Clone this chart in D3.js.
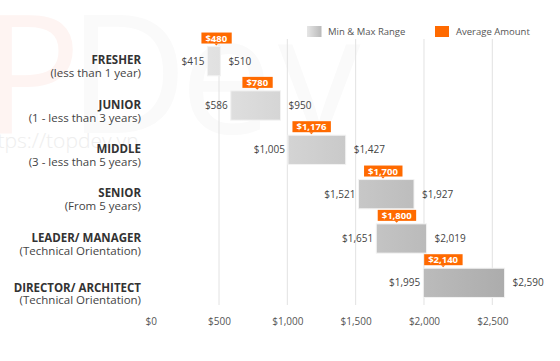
<!DOCTYPE html>
<html><head><meta charset="utf-8">
<script src="https://cdn.jsdelivr.net/npm/d3@7"></script>
<style>body{margin:0;background:#fff}svg{display:block;font-family:"Open Sans",sans-serif}</style>
</head><body><svg id="c" width="560" height="361"></svg>
<script>
const titles = ["FRESHER","JUNIOR","MIDDLE","SENIOR","LEADER/ MANAGER","DIRECTOR/ ARCHITECT"];
const subtitles = ["(less than 1 year)","(1 - less than 3 years)","(3 - less than 5 years)","(From 5 years)","(Technical Orientation)","(Technical Orientation)"];
const minVals = [415,586,1005,1521,1651,1995];
const maxVals = [510,950,1427,1927,2019,2590];
const avgVals = [480,780,1176,1700,1800,2140];
const ticks = [0,500,1000,1500,2000,2500];
const legendLabels = ["Min & Max Range","Average Amount"];

const svg = d3.select("#c");
const fmt = v => "$" + d3.format(",")(v);
const x = d3.scaleLinear().domain([0,2500]).range([150.7,492.3]);
const y = d3.scaleBand().domain(titles).range([39,305]).paddingInner(0.34).paddingOuter(0.17);

// watermark
const wm = svg.append("g").attr("font-family","Open Sans, sans-serif").attr("font-size",165).attr("font-weight",400);
wm.append("text").attr("x",-18).attr("y",133).attr("fill","#fef4f2").text("P");
wm.append("text").attr("x",68).attr("y",133).attr("fill","#fafafa").text("D");
wm.append("text").attr("x",180).attr("y",133).attr("fill","#fafafa").text("e");
wm.append("text").attr("x",278).attr("y",133).attr("fill","#fafafa").text("v");
svg.append("text").attr("x",-22).attr("y",148).attr("font-size",21).attr("font-weight",300).attr("fill","#eeeeee").text("https://topdev.vn");

const defs = svg.append("defs");
const g1 = defs.append("linearGradient").attr("id","bg").attr("gradientUnits","userSpaceOnUse")
  .attr("x1",x(0)).attr("x2",x(2600)).attr("y1",0).attr("y2",0);
g1.append("stop").attr("offset",0).attr("stop-color","#ededed");
g1.append("stop").attr("offset",1).attr("stop-color","#acacac");
const g2 = defs.append("linearGradient").attr("id","lg");
g2.append("stop").attr("offset",0).attr("stop-color","#e6e6e6");
g2.append("stop").attr("offset",1).attr("stop-color","#b9b9b9");

// grid
svg.append("g").selectAll("line").data(ticks.filter(t=>t>0)).join("line")
  .attr("x1",d=>x(d)).attr("x2",d=>x(d)).attr("y1",39).attr("y2",305)
  .attr("stroke","#e2e2e2").attr("stroke-width",1);

// axis
const ax = svg.append("g").attr("transform","translate(0,305)")
  .call(d3.axisBottom(x).tickValues(ticks).tickFormat(fmt).tickSize(0).tickPadding(13));
ax.select(".domain").remove();
ax.selectAll("text").attr("font-size",10).attr("fill","#555").attr("font-family","Open Sans, sans-serif");

const bw = y.bandwidth();
// bars
svg.append("g").selectAll("rect").data(titles).join("rect")
  .attr("x",(d,i)=>x(minVals[i])).attr("width",(d,i)=>x(maxVals[i])-x(minVals[i]))
  .attr("y",d=>y(d)).attr("height",bw)
  .attr("fill","url(#bg)").attr("stroke","#f2f2f2").attr("stroke-width",1);

// min / max labels
svg.append("g").selectAll("text").data(titles).join("text")
  .attr("x",(d,i)=>x(minVals[i])-3).attr("y",d=>y(d)+bw/2+3.5)
  .attr("text-anchor","end").attr("font-size",10).attr("fill","#444").text((d,i)=>fmt(minVals[i]));
svg.append("g").selectAll("text").data(titles).join("text")
  .attr("x",(d,i)=>x(maxVals[i])+8).attr("y",d=>y(d)+bw/2+3.5)
  .attr("text-anchor","start").attr("font-size",10).attr("fill","#444").text((d,i)=>fmt(maxVals[i]));

// avg labels
const ag = svg.append("g").selectAll("g").data(titles).join("g")
  .attr("transform",(d,i)=>`translate(${x(avgVals[i])},${y(d)})`);
ag.append("text").attr("text-anchor","middle").attr("y",-5).attr("font-size",9.5).attr("font-weight",700)
  .attr("fill","#fff").text((d,i)=>fmt(avgVals[i]))
  .each(function(){
    const b=this.getBBox();
    d3.select(this.parentNode).insert("rect","text").attr("x",b.x-4).attr("width",b.width+8)
      .attr("y",-14).attr("height",11).attr("fill","#ff6a00");
  });
ag.append("path").attr("d","M-2,-3L2,-3L0,-1Z").attr("fill","#ff6a00");

// category labels
const cl = svg.append("g").selectAll("g").data(titles).join("g");
cl.append("text").attr("x",141).attr("y",(d,i)=>y(d)+bw/2+(i===titles.length-1?9.5:3))
  .attr("text-anchor","end").attr("font-size",11.5).attr("font-weight",700).attr("fill","#333").text(d=>d);
cl.append("text").attr("x",141).attr("y",(d,i)=>y(d)+bw/2+(i===titles.length-1?21.5:16))
  .attr("text-anchor","end").attr("font-size",11.5).attr("fill","#444").text((d,i)=>subtitles[i]);

// legend
const lg = svg.append("g");
lg.append("rect").attr("x",307).attr("y",26).attr("width",14.5).attr("height",11).attr("fill","url(#lg)");
lg.append("text").attr("x",328).attr("y",35).attr("font-size",9.5).attr("fill","#555").text(legendLabels[0]);
lg.append("rect").attr("x",435).attr("y",26).attr("width",14).attr("height",11).attr("fill","#ff6a00");
lg.append("text").attr("x",456).attr("y",35).attr("font-size",9.5).attr("fill","#555").text(legendLabels[1]);
</script></body></html>
